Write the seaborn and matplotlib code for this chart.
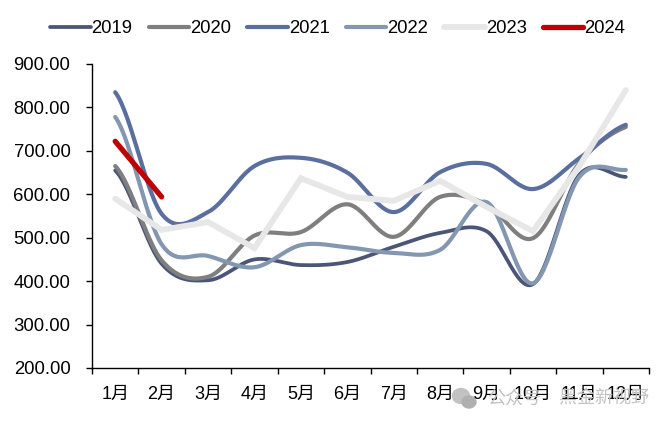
import numpy as np
import pandas as pd
import seaborn as sns
import matplotlib.pyplot as plt
from matplotlib.patches import Ellipse

months = ['1月', '2月', '3月', '4月', '5月', '6月', '7月', '8月', '9月', '10月', '11月', '12月']
y2019 = [655, 440, 402, 450, 437, 444, 479, 511, 515, 393, 645, 640]
y2020 = [665, 448, 410, 505, 513, 577, 502, 594, 577, 499, 672, 755]
y2021 = [835, 555, 559, 665, 684, 650, 559, 651, 670, 612, 683, 760]
y2022 = [778, 485, 458, 432, 483, 478, 465, 472, 582, 395, 640, 656]
y2023 = [590, 518, 536, 476, 637, 594, 585, 631, 571, 515, 665, 840]
y2024 = [722, 594]

COLORS = {'2019': '#4a5578', '2020': '#7f7f7f', '2021': '#5b6f9f',
          '2022': '#8497b0', '2023': '#e7e7e7', '2024': '#c00000'}


def smooth(values, n=30):
    # excel style smoothed line (catmull-rom through the points)
    p = np.array(values, dtype=float)
    p = np.concatenate([[p[0]], p, [p[-1]]])
    xs, ys = [], []
    for i in range(1, len(p) - 2):
        t = np.linspace(0, 1, n, endpoint=False)
        v = 0.5 * (2 * p[i] + (p[i + 1] - p[i - 1]) * t
                   + (2 * p[i - 1] - 5 * p[i] + 4 * p[i + 1] - p[i + 2]) * t ** 2
                   + (3 * p[i] - p[i - 1] - 3 * p[i + 1] + p[i + 2]) * t ** 3)
        xs.extend(i - 1 + t)
        ys.extend(v)
    xs.append(len(values) - 1)
    ys.append(values[-1])
    return pd.DataFrame({'x': xs, 'y': ys})


sns.set_theme(style='white')
plt.rcParams['font.family'] = ['Liberation Sans', 'Noto Sans CJK SC']

fig = plt.figure(figsize=(6.72, 4.26), dpi=100)
ax = fig.add_axes([92 / 672, 1 - 368 / 426, 557 / 672, 304 / 426])

curves = [('2019', y2019, True, 2.7), ('2020', y2020, True, 3.0), ('2021', y2021, True, 3.0),
          ('2022', y2022, True, 3.0), ('2023', y2023, False, 4.2), ('2024', y2024, False, 3.8)]
for name, vals, is_smooth, lw in curves:
    if is_smooth:
        df = smooth(vals)
    else:
        df = pd.DataFrame({'x': range(len(vals)), 'y': vals})
    sns.lineplot(data=df, x='x', y='y', ax=ax, color=COLORS[name], lw=lw, label=name,
                 solid_capstyle='round', solid_joinstyle='miter', estimator=None, sort=False)

ax.set_xlim(-0.5, 11.5)
ax.set_ylim(200, 900)
ax.set_xlabel('')
ax.set_ylabel('')
ax.set_yticks(np.arange(200, 901, 100))
ax.set_yticklabels([f'{v:.2f}' for v in np.arange(200, 901, 100)], fontsize=13.3, color='black')
ax.set_xticks(np.arange(-0.5, 12, 1))
ax.set_xticklabels([])
ax.set_xticks(np.arange(12), labels=months, minor=True, fontsize=13, color='black')
ax.tick_params(axis='both', which='major', direction='out', length=4, width=1, color='black',
               left=True, bottom=True)
ax.tick_params(axis='y', which='major', pad=11.5)
ax.tick_params(axis='x', which='minor', length=0, bottom=False, pad=13)
sns.despine(ax=ax)
for s in ['left', 'bottom']:
    ax.spines[s].set_color('black')
    ax.spines[s].set_linewidth(1)

ax.legend(loc='center', bbox_to_anchor=(0.441, 1.116), ncol=6, frameon=False, fontsize=13.3,
          handlelength=2.2, handletextpad=0.05, columnspacing=0.87, labelcolor='black')

# watermark under the month labels
WM = '#c2c2c2'
fig.add_artist(Ellipse((461 / 672, 1 - 396 / 426), 17 / 672, 15 / 426, color=WM, zorder=0))
fig.add_artist(Ellipse((469 / 672, 1 - 402 / 426), 14 / 672, 12 / 426, color='#b0b0b0', zorder=0))
fig.text(514 / 672, 1 - 399 / 426, '公众号', fontsize=13, color=WM, ha='center', va='center', zorder=0)
fig.text(604 / 672, 1 - 399 / 426, '黑金新视野', fontsize=13, color=WM, ha='center', va='center', zorder=0)

fig.savefig('out.png', dpi=100)
